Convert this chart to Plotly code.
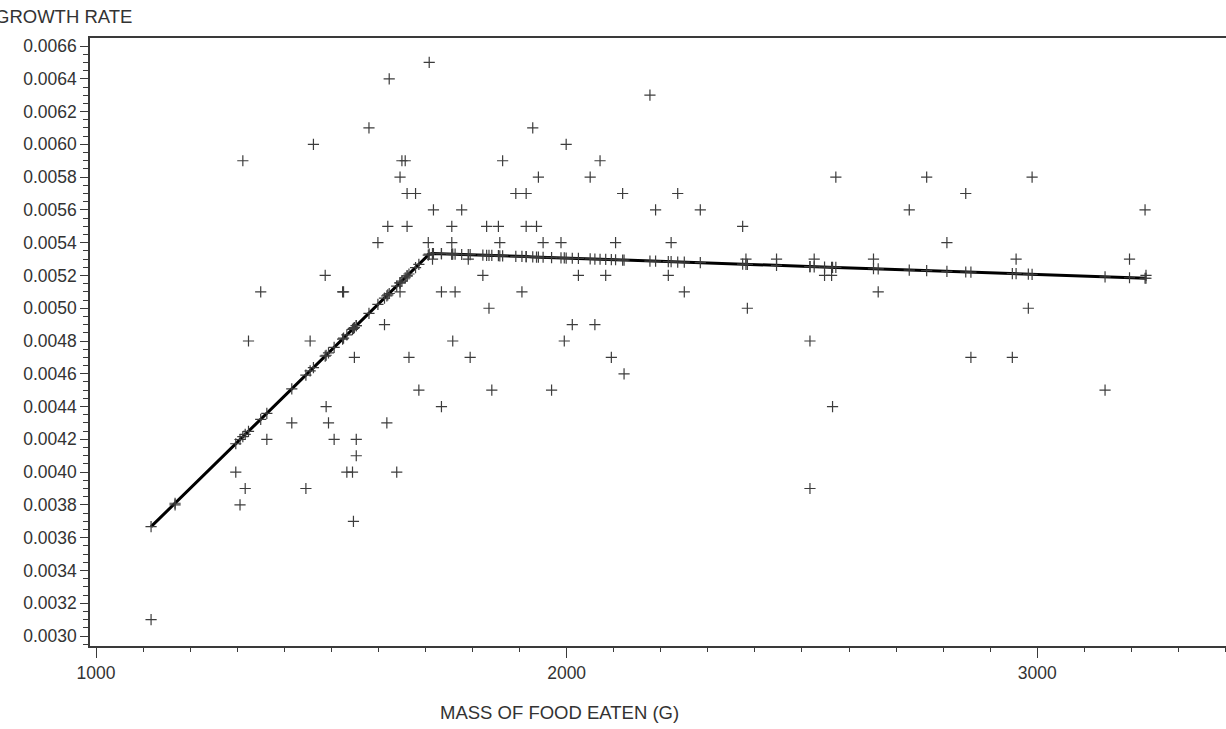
import plotly.graph_objects as go

# ---- data ----
mass = [1117, 1168, 1297, 1306, 1312, 1317, 1324, 1350, 1363, 1416, 1446, 1455, 1462,
        1487, 1489, 1494, 1506, 1524, 1526, 1533, 1545, 1547, 1549, 1553, 1553, 1580,
        1599, 1613, 1618, 1620, 1623, 1639, 1646, 1646, 1650, 1657, 1661, 1661, 1665,
        1679, 1686, 1706, 1708, 1715, 1717, 1734, 1734, 1756, 1756, 1758, 1763, 1777,
        1791, 1795, 1822, 1830, 1835, 1841, 1855, 1858, 1864, 1892, 1905, 1914, 1914,
        1928, 1936, 1940, 1950, 1968, 1988, 1995, 1999, 2012, 2025, 2050, 2060, 2071,
        2083, 2095, 2104, 2119, 2122, 2177, 2189, 2216, 2222, 2236, 2250, 2284, 2374,
        2381, 2384, 2446, 2517, 2517, 2526, 2548, 2563, 2565, 2572, 2652, 2662, 2728,
        2765, 2808, 2848, 2859, 2947, 2955, 2981, 2989, 3144, 3196, 3229, 3231]

growth = [0.0031, 0.0038, 0.0040, 0.0038, 0.0059, 0.0039, 0.0048, 0.0051, 0.0042, 0.0043,
          0.0039, 0.0048, 0.0060, 0.0052, 0.0044, 0.0043, 0.0042, 0.0051, 0.0051, 0.0040,
          0.0040, 0.0037, 0.0047, 0.0042, 0.0041, 0.0061, 0.0054, 0.0049, 0.0043, 0.0055,
          0.0064, 0.0040, 0.0058, 0.0051, 0.0059, 0.0059, 0.0057, 0.0055, 0.0047, 0.0057,
          0.0045, 0.0054, 0.0065, 0.0053, 0.0056, 0.0051, 0.0044, 0.0055, 0.0054, 0.0048,
          0.0051, 0.0056, 0.0053, 0.0047, 0.0052, 0.0055, 0.0050, 0.0045, 0.0055, 0.0054,
          0.0059, 0.0057, 0.0051, 0.0057, 0.0055, 0.0061, 0.0055, 0.0058, 0.0054, 0.0045,
          0.0054, 0.0048, 0.0060, 0.0049, 0.0052, 0.0058, 0.0049, 0.0059, 0.0052, 0.0047,
          0.0054, 0.0057, 0.0046, 0.0063, 0.0056, 0.0052, 0.0054, 0.0057, 0.0051, 0.0056,
          0.0055, 0.0053, 0.0050, 0.0053, 0.0048, 0.0039, 0.0053, 0.0052, 0.0052, 0.0044,
          0.0058, 0.0053, 0.0051, 0.0056, 0.0058, 0.0054, 0.0057, 0.0047, 0.0047, 0.0053,
          0.0050, 0.0058, 0.0045, 0.0053, 0.0056, 0.0052]

predicted = [0.003667, 0.003810, 0.004173, 0.004199, 0.004216, 0.004230, 0.004249, 0.004322,
             0.004359, 0.004508, 0.004592, 0.004618, 0.004638, 0.004708, 0.004713, 0.004728,
             0.004761, 0.004812, 0.004818, 0.004837, 0.004871, 0.004877, 0.004882, 0.004894,
             0.004894, 0.004969, 0.005023, 0.005062, 0.005076, 0.005082, 0.005090, 0.005135,
             0.005155, 0.005155, 0.005166, 0.005186, 0.005197, 0.005197, 0.005209, 0.005248,
             0.005268, 0.005324, 0.005330, 0.005334, 0.005334, 0.005333, 0.005333, 0.005330,
             0.005330, 0.005330, 0.005330, 0.005328, 0.005327, 0.005327, 0.005324, 0.005323,
             0.005323, 0.005322, 0.005321, 0.005320, 0.005320, 0.005317, 0.005316, 0.005315,
             0.005315, 0.005313, 0.005312, 0.005312, 0.005311, 0.005309, 0.005307, 0.005307,
             0.005306, 0.005305, 0.005304, 0.005301, 0.005300, 0.005299, 0.005298, 0.005297,
             0.005296, 0.005294, 0.005294, 0.005288, 0.005287, 0.005284, 0.005284, 0.005282,
             0.005281, 0.005278, 0.005269, 0.005268, 0.005268, 0.005261, 0.005254, 0.005254,
             0.005253, 0.005251, 0.005250, 0.005249, 0.005249, 0.005241, 0.005240, 0.005233,
             0.005230, 0.005225, 0.005221, 0.005220, 0.005211, 0.005211, 0.005208, 0.005207,
             0.005192, 0.005186, 0.005183, 0.005183]

x_ticks = [1000, 2000, 3000]
y_ticks = [0.0030, 0.0032, 0.0034, 0.0036, 0.0038, 0.0040, 0.0042, 0.0044, 0.0046,
           0.0048, 0.0050, 0.0052, 0.0054, 0.0056, 0.0058, 0.0060, 0.0062, 0.0064, 0.0066]
y_labels = ["%.4f" % v for v in y_ticks]

FONT = "Liberation Sans, Arial, sans-serif"
TXT = "#333333"
AX = "#3a3a3a"
TICK_SIZE = 17.5
TITLE_SIZE = 18.5

fig = go.Figure()
fig.add_trace(go.Scatter(
    x=mass, y=predicted, mode="lines+markers",
    line=dict(color="black", width=3),
    marker=dict(symbol="cross-thin", size=8, line=dict(color="#3c3c3c", width=1.2)),
    showlegend=False))
fig.add_trace(go.Scatter(
    x=mass, y=growth, mode="markers",
    marker=dict(symbol="cross-thin", size=8, line=dict(color="#3c3c3c", width=1.2)),
    showlegend=False))

fig.update_layout(
    width=1226, height=729,
    margin=dict(l=90, r=0, t=38, b=83),
    paper_bgcolor="white", plot_bgcolor="white",
    font=dict(family=FONT, size=TICK_SIZE, color=TXT),
    xaxis=dict(range=[987.25, 3401], tickvals=x_ticks, ticktext=[str(v) for v in x_ticks],
               ticks="outside", ticklen=10, tickwidth=1.3, tickcolor=AX,
               showline=True, linecolor=AX, linewidth=1.6, mirror=True,
               showgrid=False, zeroline=False,
               tickfont=dict(family=FONT, size=TICK_SIZE, color=TXT),
               minor=dict(tick0=1000, dtick=100, ticks="outside", ticklen=4,
                          tickwidth=1.3, tickcolor=AX, showgrid=False)),
    yaxis=dict(range=[0.002939, 0.006649], tickvals=y_ticks, ticktext=y_labels,
               ticks="outside", ticklen=8, tickwidth=1.3, tickcolor=AX,
               showline=True, linecolor=AX, linewidth=1.6, mirror=False,
               showgrid=False, zeroline=False,
               tickfont=dict(family=FONT, size=TICK_SIZE, color=TXT),
               minor=dict(tick0=0.0030, dtick=0.00005, ticks="outside", ticklen=5,
                          tickwidth=1.3, tickcolor=AX, showgrid=False)),
    annotations=[
        dict(text="GROWTH RATE", xref="paper", yref="paper", x=-0.0854, y=1.036,
             xanchor="left", yanchor="middle", showarrow=False,
             font=dict(family=FONT, size=TITLE_SIZE, color=TXT)),
        dict(text="MASS OF FOOD EATEN (G)", xref="paper", yref="paper", x=0.413, y=-0.110,
             xanchor="center", yanchor="middle", showarrow=False,
             font=dict(family=FONT, size=TITLE_SIZE, color=TXT)),
    ],
)

fig.write_html("out.html")
